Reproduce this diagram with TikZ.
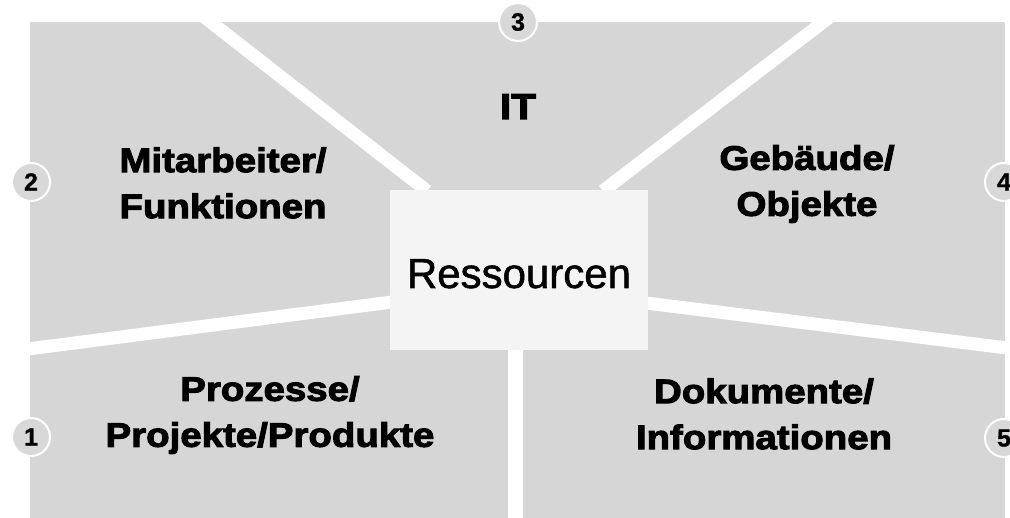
\documentclass[tikz,border=0pt]{standalone}
\usepackage{fontspec}
\setmainfont{Liberation Sans}
\newfontfamily\heavy{Liberation Sans}[UprightFont={* Bold}, FakeStretch=1.13, FakeBold=3]
\newfontfamily\numfont{Liberation Sans}[UprightFont={* Bold}, FakeBold=1]
\newfontfamily\resfont{Liberation Sans}[FakeBold=1.2]
\definecolor{panel}{HTML}{D6D6D6}
\definecolor{boxfill}{HTML}{F4F4F4}
\definecolor{numfill}{HTML}{D8D8D8}
\tikzset{
  gap/.style={draw=white, line width=13pt},
  lbl/.style={align=center, inner sep=0pt, text=black,
    font=\heavy\fontsize{34}{46}\selectfont},
  numc/.style={circle, minimum size=38pt, inner sep=0pt, fill=numfill,
    draw=white, line width=2pt, font=\numfont\fontsize{25}{25}\selectfont},
  centerbox/.style={rectangle, fill=boxfill, draw=none, minimum width=258pt,
    minimum height=160pt, inner sep=0pt}
}
\begin{document}
\begin{tikzpicture}[x=1pt,y=-1pt]
\useasboundingbox (0,0) rectangle (1010,518);
% grey panel
\fill[panel] (30,22) rectangle (1005,518);
% white gaps between the five segments
\coordinate (gTLa) at (203,16);  \coordinate (gTLb) at (427,191);
\coordinate (gTRa) at (831,16);  \coordinate (gTRb) at (603,191);
\coordinate (gLa) at (20,350);   \coordinate (gLb) at (392,302);
\coordinate (gRa) at (1015,349); \coordinate (gRb) at (646,303);
\coordinate (gBa) at (515,348);  \coordinate (gBb) at (515,522);
\draw[gap] (gTLa) -- (gTLb);
\draw[gap] (gTRa) -- (gTRb);
\draw[gap] (gLa) -- (gLb);
\draw[gap] (gRa) -- (gRb);
\draw[gap, line width=15pt] (gBa) -- (gBb);
% centre box
\node[centerbox] (res) at (519,270) {};
\node[anchor=base, inner sep=0pt, font=\resfont\fontsize{42}{42}\selectfont] (restxt) at (519,288) {Ressourcen};
% segment labels
\node[lbl, anchor=base] (it) at (518,119) {\fontsize{36}{36}\selectfont IT};
\node[lbl] (mit) at (223,183) {Mitarbeiter/\\Funktionen};
\node[lbl] (geb) at (807,184) {Gebäude/\\Objekte};
\node[lbl] (pro) at (270,415) {Prozesse/\\Projekte/Produkte};
\node[lbl] (dok) at (764,414) {Dokumente/\\Informationen};
% numbers
\node[numc] (n1) at (31,437) {1};
\node[numc] (n2) at (31,182) {2};
\node[numc] (n3) at (518,22) {3};
\node[numc] (n4) at (1004,182) {4};
\node[numc] (n5) at (1004,438) {5};
\end{tikzpicture}
\end{document}
